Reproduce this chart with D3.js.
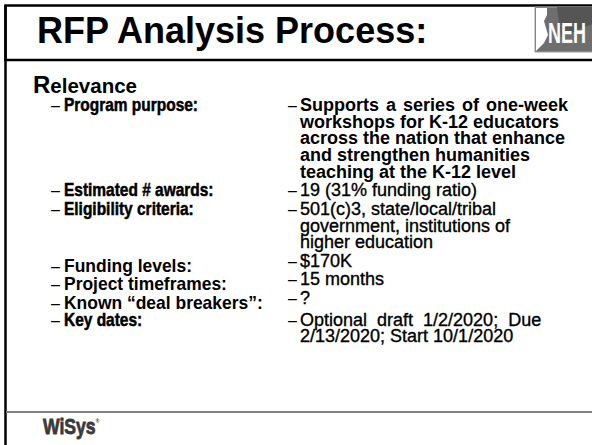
<!DOCTYPE html>
<html>
<head>
<meta charset="utf-8">
<script src="https://cdn.jsdelivr.net/npm/d3@7"></script>
<style>
  body { margin: 0; background: #fff; }
  svg { display: block; font-family: "Liberation Sans", Arial, sans-serif; }
</style>
</head>
<body>
<div id="slide"></div>
<script>
const title = "RFP Analysis Process:";
const headingCap = "R";
const headingRest = "elevance";
const labels = [
    "Program purpose:",
    "Estimated # awards:",
    "Eligibility criteria:",
    "Funding levels:",
    "Project timeframes:",
    "Known \u201cdeal breakers\u201d:",
    "Key dates:"
];
const values = [
    ["Supports a series of one-week", "workshops for K-12 educators", "across the nation that enhance", "and strengthen humanities", "teaching at the K-12 level"],
    ["19 (31% funding ratio)"],
    ["501(c)3, state/local/tribal", "government, institutions of", "higher education"],
    ["$170K"],
    ["15 months"],
    ["?"],
    ["Optional draft 1/2/2020; Due", "2/13/2020; Start 10/1/2020"]
];
const logoText = "NEH";
const footerText = "WiSys";

const width = 592;
const height = 445;

const svg = d3.select("#slide").append("svg")
    .attr("width", width)
    .attr("height", height);

// frame: title box + left rule + footer rule
svg.append("rect")
    .attr("x", 5.5).attr("y", 5.5)
    .attr("width", width).attr("height", 54.5)
    .attr("fill", "none")
    .attr("stroke", "#000")
    .attr("stroke-width", 2.5);

svg.append("line")
    .attr("x1", 5.5).attr("x2", 5.5)
    .attr("y1", 5).attr("y2", height)
    .attr("stroke", "#000")
    .attr("stroke-width", 2.5);

svg.append("line")
    .attr("x1", 6).attr("x2", width)
    .attr("y1", 412).attr("y2", 412)
    .attr("stroke", "#808080")
    .attr("stroke-width", 2);

svg.append("text")
    .attr("x", 37).attr("y", 43)
    .attr("font-size", 36)
    .attr("font-weight", "bold")
    .text(title);

// NEH logo
const logo = svg.append("g").attr("transform", "translate(535,7)");
logo.append("rect")
    .attr("width", 60).attr("height", 45)
    .attr("fill", "#6e6e6e")
    .attr("stroke", "#a0a0a0");
logo.append("polygon")
    .attr("points", "22,0 60,0 60,16 26,30")
    .attr("fill", "#555");
logo.append("polygon")
    .attr("points", "1,1 12,1 12,8 9,14 13,28 9,36 1,44")
    .attr("fill", "#fff");
logo.append("text")
    .attr("transform", "translate(13,36) scale(0.62,1)")
    .attr("font-size", 29)
    .attr("font-weight", "bold")
    .attr("fill", "#fff")
    .text(logoText);

// heading
const heading = svg.append("text")
    .attr("x", 33).attr("y", 93)
    .attr("font-weight", "bold");
heading.append("tspan").attr("font-size", 24).text(headingCap);
heading.append("tspan").attr("font-size", 20.5).text(headingRest);

// rows laid out in line units
const lineStarts = [];
let u = 0;
values.forEach((v, i) => {
    if (i === values.length - 1) u += 0.2;
    lineStarts.push(u);
    u += v.length + 0.11;
});

const y = d3.scaleLinear().domain([0, 1]).range([111, 127.7]);

const narrowLabels = new Set([0, 1, 2, 6]);
const droppedLabels = new Set([3, 4, 5]);
const labelY = d => y(d.start) + (droppedLabels.has(d.i) ? 5 : 0);

const rows = svg.append("g").selectAll("g")
    .data(labels.map((label, i) => ({ label, lines: values[i], start: lineStarts[i], i })))
    .join("g");

rows.append("text")
    .attr("x", 51)
    .attr("y", labelY)
    .attr("font-size", 16)
    .text("\u2013");

rows.append("text")
    .attr("transform", d => `translate(64,${labelY(d)}) scale(${narrowLabels.has(d.i) ? 0.86 : 0.97},1)`)
    .attr("font-size", 18)
    .attr("font-weight", "bold")
    .attr("stroke", "#000")
    .attr("stroke-width", d => narrowLabels.has(d.i) ? 0.5 : 0)
    .text(d => d.label);

rows.append("text")
    .attr("x", 288)
    .attr("y", d => y(d.start))
    .attr("font-size", 16)
    .text("\u2013");

rows.selectAll("text.val")
    .data(d => d.lines.map((line, k) => ({ line, k, start: d.start, i: d.i })))
    .join("text")
    .attr("class", "val")
    .attr("x", 300)
    .attr("y", d => y(d.start + d.k))
    .attr("font-size", 18)
    .attr("font-weight", d => d.i === 0 ? "bold" : "normal")
    .attr("stroke", "#000")
    .attr("stroke-width", d => d.i === 0 ? 0 : 0.35)
    .attr("word-spacing", d => (d.i === 0 && d.k === 0) ? 2 : (d.i === 6 && d.k === 0 ? 5 : 0))
    .text(d => d.line);

// footer logo
const footer = svg.append("text")
    .attr("transform", "translate(43,434) scale(0.8,1)")
    .attr("font-size", 22)
    .attr("font-weight", "bold")
    .attr("fill", "#3a3a3a")
    .attr("stroke", "#3a3a3a")
    .attr("stroke-width", 0.8);
footer.append("tspan").text(footerText);
footer.append("tspan")
    .attr("font-size", 6)
    .attr("stroke-width", 0)
    .attr("dy", -11)
    .text("\u00ae");
</script>
</body>
</html>
